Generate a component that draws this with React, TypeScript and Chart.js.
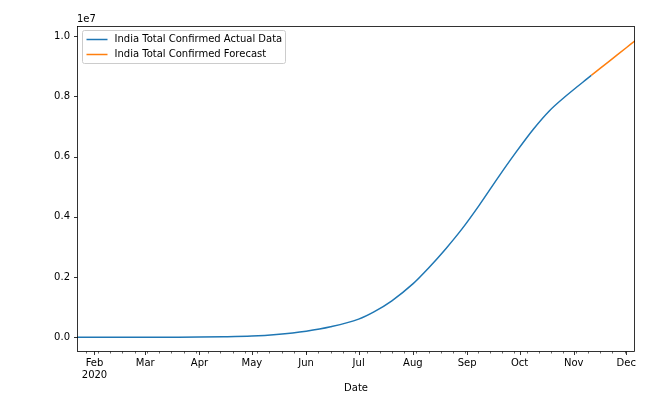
import React, { useEffect, useRef } from 'react';
import { Chart, registerables } from 'chart.js';

Chart.register(...registerables);

const START_DATE = '2020-01-22';

const actualDates = [
  '2020-01-22', '2020-01-30', '2020-02-15', '2020-03-01', '2020-03-15', '2020-04-01',
  '2020-04-15', '2020-05-01', '2020-05-15', '2020-06-01', '2020-06-15', '2020-07-01',
  '2020-07-10', '2020-07-20', '2020-08-01', '2020-08-10', '2020-08-20', '2020-08-29',
  '2020-09-08', '2020-09-19', '2020-09-29', '2020-10-09', '2020-10-18', '2020-10-28',
  '2020-11-11',
];
const actualValues = [
  0, 1, 3, 3, 110, 2000,
  12000, 37000, 90000, 200000, 345000, 600000,
  850000, 1210000, 1770000, 2300000, 2950000, 3590000,
  4390000, 5330000, 6150000, 6920000, 7520000, 8040000,
  8700000,
];

const forecastDates = ['2020-11-11', '2020-11-21', '2020-12-01', '2020-12-06'];
const forecastValues = [8700000, 9160000, 9620000, 9850000];

const monthTickDates = [
  '2020-02-01', '2020-03-01', '2020-04-01', '2020-05-01', '2020-06-01', '2020-07-01',
  '2020-08-01', '2020-09-01', '2020-10-01', '2020-11-01', '2020-12-01',
];
const monthTickLabels: (string | string[])[] = [
  ['Feb', '2020'], 'Mar', 'Apr', 'May', 'Jun', 'Jul', 'Aug', 'Sep', 'Oct', 'Nov', 'Dec',
];
const yTickValues = [0, 2000000, 4000000, 6000000, 8000000, 10000000];

const seriesLabels = ['India Total Confirmed Actual Data', 'India Total Confirmed Forecast'];
const seriesColors = ['#1f77b4', '#ff7f0e'];

const FONT = '"DejaVu Sans", sans-serif';

function dayIndex(d: string): number {
  return Math.round((Date.parse(d) - Date.parse(START_DATE)) / 86400000);
}

function mondayTicks(minDay: number, maxDay: number): number[] {
  // first Monday on/after start: 2020-01-27
  const first = dayIndex('2020-01-27');
  const out: number[] = [];
  for (let d = first; d <= maxDay; d += 7) if (d >= minDay) out.push(d);
  return out;
}

const decorPlugin = {
  id: 'decor',
  afterDraw(chart: any) {
    const { ctx, chartArea: a, scales } = chart;
    const x = scales.x;
    const y = scales.y;
    ctx.save();
    // frame
    ctx.strokeStyle = '#000';
    ctx.lineWidth = 0.8;
    const L = Math.round(a.left) + 0.5;
    const R = Math.round(a.right) - 0.5;
    const T = Math.round(a.top) + 0.5;
    const B = Math.round(a.bottom) - 0.5;
    ctx.strokeRect(L, T, R - L, B - T);

    // x minor ticks
    ctx.lineWidth = 0.6;
    ctx.beginPath();
    for (const d of mondayTicks(x.min, x.max)) {
      const px = Math.round(x.getPixelForValue(d)) + 0.5;
      ctx.moveTo(px, B);
      ctx.lineTo(px, B + 2);
    }
    ctx.stroke();
    // x major ticks
    ctx.lineWidth = 0.8;
    ctx.beginPath();
    for (const ds of monthTickDates) {
      const px = Math.round(x.getPixelForValue(dayIndex(ds))) + 0.5;
      ctx.moveTo(px, B);
      ctx.lineTo(px, B + 3.5);
    }
    // y ticks
    for (const v of yTickValues) {
      const py = Math.round(y.getPixelForValue(v)) + 0.5;
      ctx.moveTo(L, py);
      ctx.lineTo(L - 3.5, py);
    }
    ctx.stroke();

    // offset text
    ctx.fillStyle = '#000';
    ctx.font = `10px ${FONT}`;
    ctx.textAlign = 'left';
    ctx.textBaseline = 'alphabetic';
    ctx.fillText('1e7', a.left, a.top - 4);

    // legend
    const bx = a.left + 5.5;
    const by = a.top + 4.5;
    const bw = 203;
    const bh = 33;
    ctx.beginPath();
    const r = 2;
    ctx.moveTo(bx + r, by);
    ctx.lineTo(bx + bw - r, by);
    ctx.quadraticCurveTo(bx + bw, by, bx + bw, by + r);
    ctx.lineTo(bx + bw, by + bh - r);
    ctx.quadraticCurveTo(bx + bw, by + bh, bx + bw - r, by + bh);
    ctx.lineTo(bx + r, by + bh);
    ctx.quadraticCurveTo(bx, by + bh, bx, by + bh - r);
    ctx.lineTo(bx, by + r);
    ctx.quadraticCurveTo(bx, by, bx + r, by);
    ctx.closePath();
    ctx.fillStyle = 'rgba(255,255,255,0.8)';
    ctx.fill();
    ctx.strokeStyle = '#cccccc';
    ctx.lineWidth = 1;
    ctx.stroke();

    ctx.textBaseline = 'middle';
    seriesLabels.forEach((lab, i) => {
      const cy = by + 9 + i * 15;
      ctx.strokeStyle = seriesColors[i];
      ctx.lineWidth = 1.5;
      ctx.beginPath();
      ctx.moveTo(bx + 4, cy);
      ctx.lineTo(bx + 25, cy);
      ctx.stroke();
      ctx.fillStyle = '#000';
      ctx.fillText(lab, bx + 32, cy);
    });
    ctx.restore();
  },
};

export default function App() {
  const canvasRef = useRef<HTMLCanvasElement | null>(null);

  useEffect(() => {
    document.body.style.margin = '0';
    const canvas = canvasRef.current;
    if (!canvas) return;

    const actualData = actualDates.map((d, i) => ({ x: dayIndex(d), y: actualValues[i] }));
    const forecastData = forecastDates.map((d, i) => ({ x: dayIndex(d), y: forecastValues[i] }));
    const allValues = [...actualValues, ...forecastValues];
    const dataMax = Math.max(...allValues);
    const dataMin = Math.min(...allValues);
    const margin = (dataMax - dataMin) * 0.05;
    const xMin = dayIndex(actualDates[0]);
    const xMax = dayIndex(forecastDates[forecastDates.length - 1]);
    const monthDays = monthTickDates.map(dayIndex);

    const chart = new Chart(canvas, {
      type: 'line',
      data: {
        datasets: [
          {
            label: seriesLabels[0],
            data: actualData,
            borderColor: seriesColors[0],
            backgroundColor: seriesColors[0],
            borderWidth: 1.5,
            pointRadius: 0,
            cubicInterpolationMode: 'monotone',
            fill: false,
          },
          {
            label: seriesLabels[1],
            data: forecastData,
            borderColor: seriesColors[1],
            backgroundColor: seriesColors[1],
            borderWidth: 1.5,
            pointRadius: 0,
            cubicInterpolationMode: 'monotone',
            fill: false,
          },
        ],
      },
      options: {
        responsive: false,
        animation: false,
        layout: { padding: { left: 0, right: 37, top: 26, bottom: 0 } },
        plugins: {
          legend: { display: false },
          tooltip: { enabled: false },
        },
        scales: {
          x: {
            type: 'linear',
            min: xMin,
            max: xMax,
            grid: { display: false, drawTicks: false },
            border: { display: false },
            afterBuildTicks: (scale: any) => {
              scale.ticks = monthDays.map((v) => ({ value: v }));
            },
            afterFit: (scale: any) => {
              scale.height = 53;
            },
            ticks: {
              autoSkip: false,
              maxRotation: 0,
              padding: 5,
              color: '#000',
              font: { family: FONT, size: 10 },
              callback: (_v: any, i: number) => monthTickLabels[i],
            },
            title: {
              display: true,
              text: 'Date',
              color: '#000',
              font: { family: FONT, size: 10 },
              padding: { top: 0, bottom: 11 },
            },
          },
          y: {
            type: 'linear',
            min: dataMin - margin,
            max: dataMax + margin,
            grid: { display: false, drawTicks: false },
            border: { display: false },
            afterBuildTicks: (scale: any) => {
              scale.ticks = yTickValues.map((v) => ({ value: v }));
            },
            afterFit: (scale: any) => {
              scale.width = 77;
            },
            ticks: {
              padding: 7,
              color: '#000',
              font: { family: FONT, size: 10 },
              callback: (v: any) => (Number(v) / 1e7).toFixed(1),
            },
          },
        },
      },
      plugins: [decorPlugin],
    });

    return () => chart.destroy();
  }, []);

  return (
    <div style={{ width: 672, height: 405 }}>
      <canvas ref={canvasRef} width={672} height={405} style={{ display: 'block' }} />
    </div>
  );
}
